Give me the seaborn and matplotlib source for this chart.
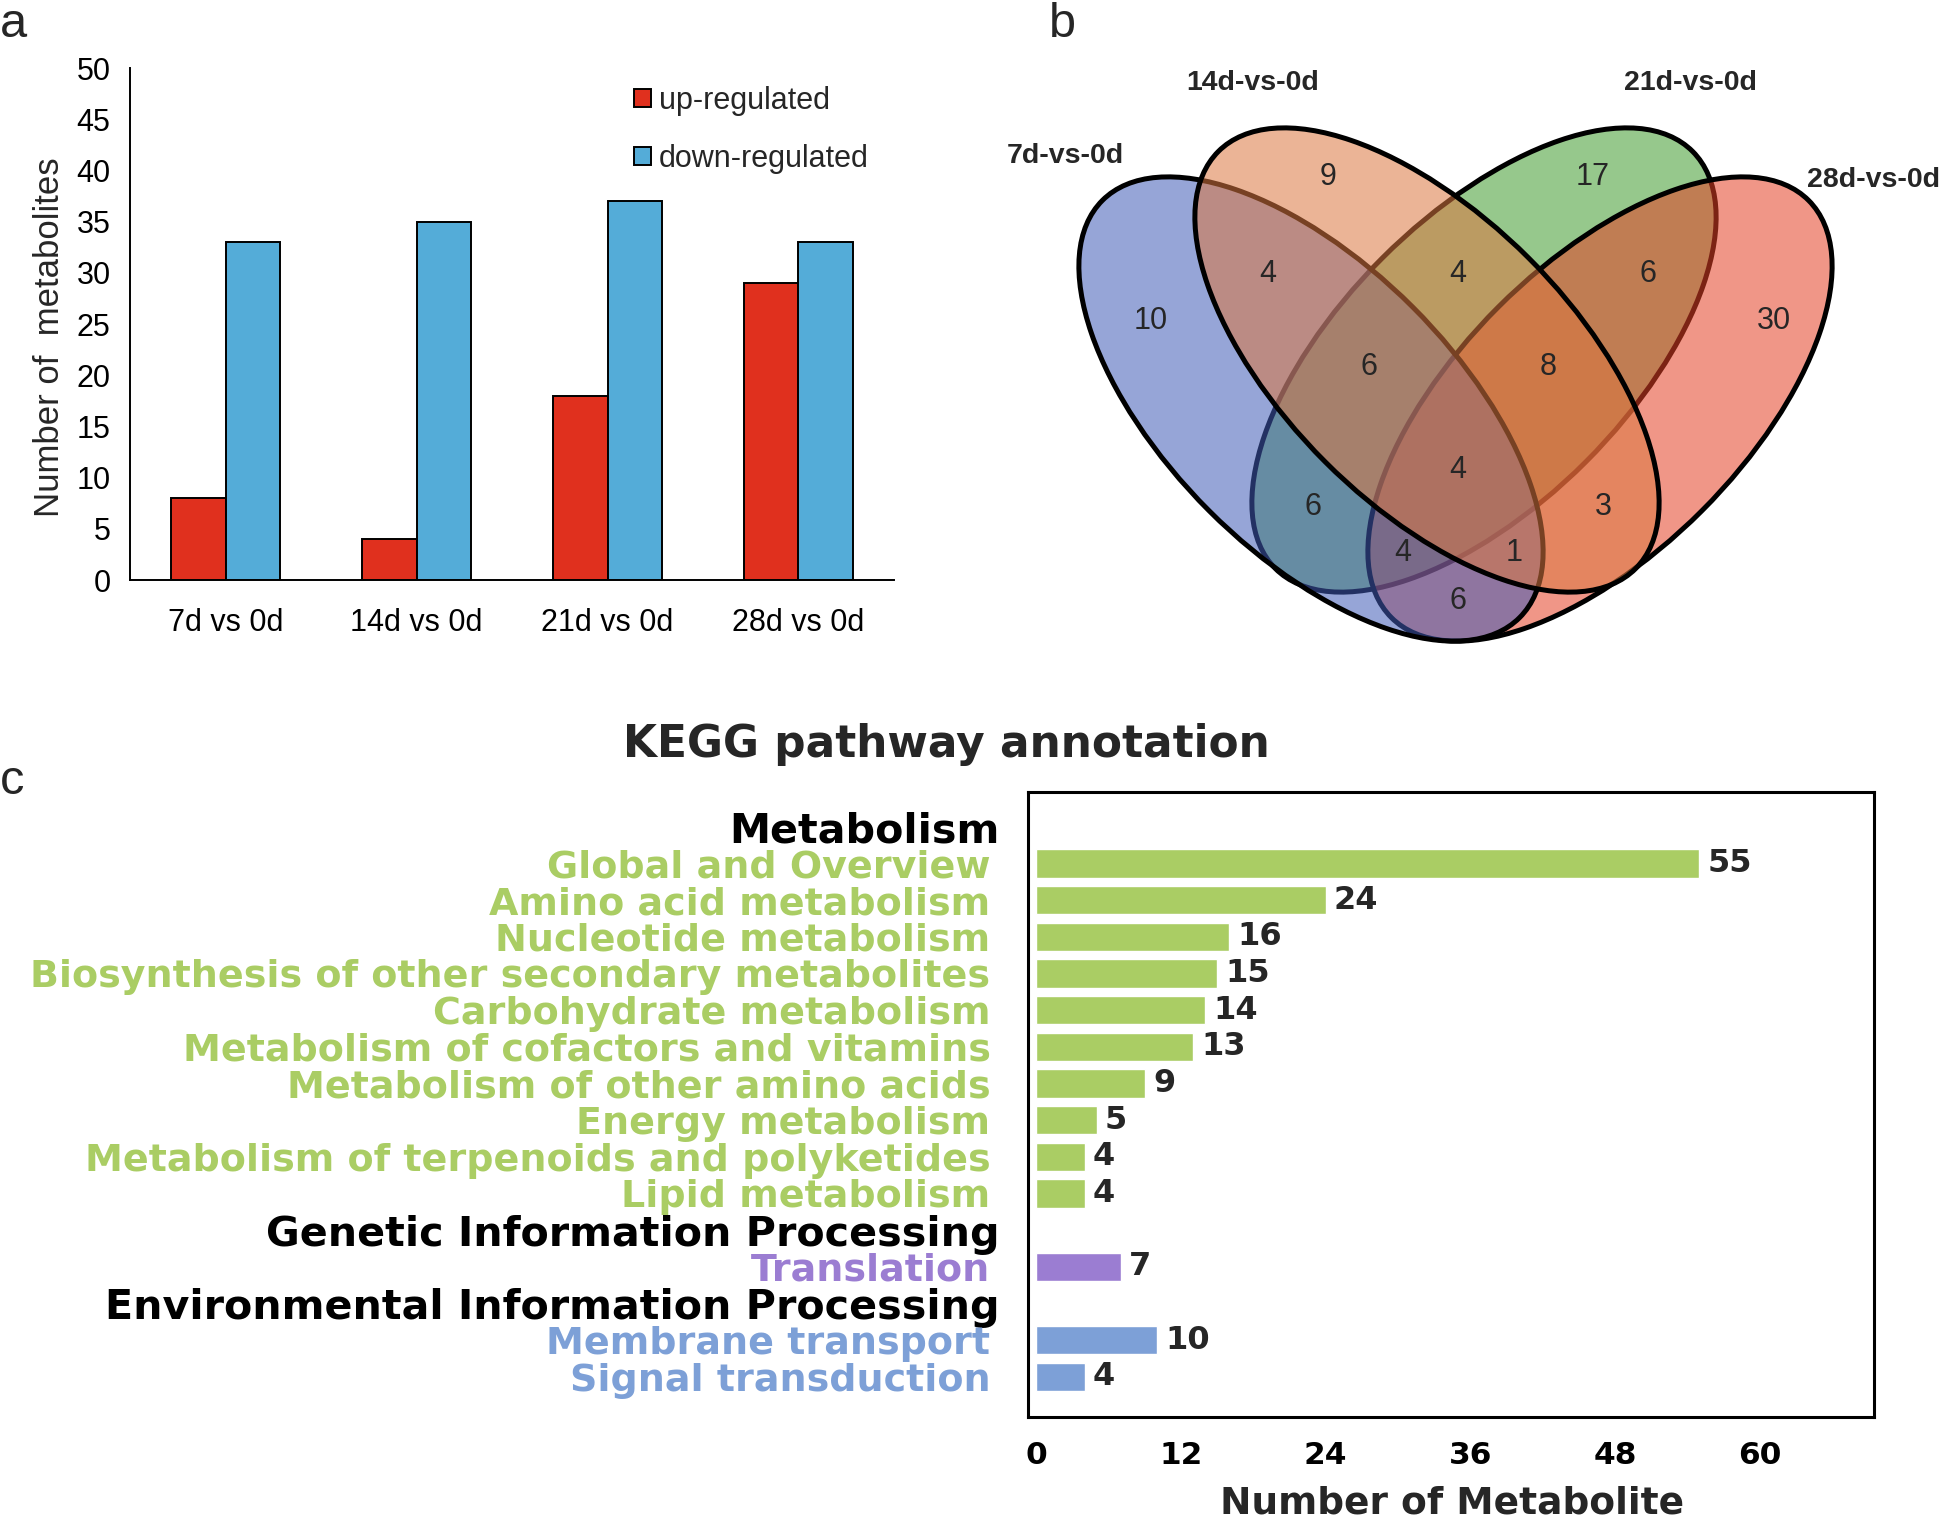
import numpy as np
import pandas as pd
import matplotlib
matplotlib.use("Agg")
import matplotlib.pyplot as plt
from matplotlib.patches import Ellipse
import seaborn as sns

# ---- panel a: differential metabolites per comparison
comparisons = ["7d vs 0d", "14d vs 0d", "21d vs 0d", "28d vs 0d"]
up_regulated = [8, 4, 18, 29]
down_regulated = [33, 35, 37, 33]

# ---- panel b: Venn region counts
venn_sets = ["7d-vs-0d", "14d-vs-0d", "21d-vs-0d", "28d-vs-0d"]
venn_counts = [10, 9, 17, 30, 4, 4, 6, 6, 8, 4, 6, 3, 4, 1, 6]

# ---- panel c: KEGG pathway annotation
metabolism_terms = ["Global and Overview", "Amino acid metabolism", "Nucleotide metabolism",
                    "Biosynthesis of other secondary metabolites", "Carbohydrate metabolism",
                    "Metabolism of cofactors and vitamins", "Metabolism of other amino acids",
                    "Energy metabolism", "Metabolism of terpenoids and polyketides", "Lipid metabolism"]
metabolism_counts = [55, 24, 16, 15, 14, 13, 9, 5, 4, 4]
genetic_terms = ["Translation"]
genetic_counts = [7]
environmental_terms = ["Membrane transport", "Signal transduction"]
environmental_counts = [10, 4]

W, H = 1946, 1527
WIDE = ["DejaVu Sans"]

def box(x0, y0, x1, y1):
    return [x0 / W, 1 - y1 / H, (x1 - x0) / W, (y1 - y0) / H]

sns.set_style("white")
plt.rcParams['font.family'] = ['Liberation Sans', 'DejaVu Sans']

fig = plt.figure(figsize=(W / 100, H / 100), dpi=100)

# ================= panel a =================
df_a = pd.DataFrame({
    "comparison": comparisons * 2,
    "count": up_regulated + down_regulated,
    "direction": ["up-regulated"] * 4 + ["down-regulated"] * 4,
})
ax_a = fig.add_axes(box(130, 68, 894, 580))
sns.barplot(data=df_a, x="comparison", y="count", hue="direction",
            palette=["#e0301e", "#54acd8"], width=0.57, saturation=1,
            edgecolor="black", linewidth=1.4, errorbar=None, ax=ax_a)
ax_a.set_xlim(-0.5, 3.5)
ax_a.set_ylim(0, 50)
ax_a.set_yticks(range(0, 51, 5))
ax_a.set_xticks([0.5, 1.5, 2.5, 3.5], minor=True)
ax_a.tick_params(axis="y", direction="out", length=6, width=1.4, labelsize=22, pad=8, colors="black")
ax_a.tick_params(axis="x", which="major", length=0, labelsize=22, pad=20, colors="black")
ax_a.tick_params(axis="x", which="minor", direction="in", length=6, width=1.4, colors="black")
sns.despine(ax=ax_a)
for s in ["left", "bottom"]:
    ax_a.spines[s].set_linewidth(1.4)
    ax_a.spines[s].set_color("black")
ax_a.set_xlabel("")
ax_a.set_ylabel("")
ax_a.legend(loc="upper left", bbox_to_anchor=(0.66, 0.965), frameon=False, fontsize=22,
            handlelength=0.55, handleheight=0.55, handletextpad=0.25, labelspacing=0.92,
            borderaxespad=0, borderpad=0)
fig.text(50 / W, 1 - 337 / H, "Number of  metabolites", rotation=90, ha="center", va="center", fontsize=25)

# ================= panel b =================
ax_b = fig.add_axes(box(1000, 60, 1946, 700))
ax_b.set_xlim(1000, 1946)
ax_b.set_ylim(700, 60)
ax_b.axis("off")

# (center x, center y, semi-major, semi-minor, angle) in pixel space; drawing order green, red, blue, orange
ellipses = [
    ((1484, 360), 295, 144, -45, "#409b2e"),   # 21d
    ((1600, 409), 295, 144, -45, "#e44025"),   # 28d
    ((1311, 409), 295, 144, 45, "#405bb6"),    # 7d
    ((1427, 360), 295, 144, 45, "#db7740"),    # 14d
]
for (cx, cy), a, b, ang, col in ellipses:
    ax_b.add_patch(Ellipse((cx, cy), 2 * a, 2 * b, angle=ang,
                           facecolor=matplotlib.colors.to_rgba(col, 0.55),
                           edgecolor="black", linewidth=3.6))

venn_label_xy = [(1151, 321), (1328, 177), (1593, 177), (1774, 321),
                 (1268, 274), (1458, 274), (1648, 274),
                 (1369, 367), (1548, 367), (1458, 470),
                 (1313, 507), (1603, 507), (1403, 553), (1514, 553), (1458, 601)]
for n, (x, y) in zip(venn_counts, venn_label_xy):
    ax_b.text(x, y, str(n), ha="center", va="center", fontsize=22)

set_label_xy = [(1065, 156, "center"), (1253, 83, "center"), (1690, 83, "center"), (1807, 180, "left")]
for name, (x, y, ha) in zip(venn_sets, set_label_xy):
    ax_b.text(x, y, name, ha=ha, va="center", fontsize=20.5, fontweight="bold", clip_on=False)

# ================= panel c =================
groups = [
    ("Metabolism", metabolism_terms, metabolism_counts, "#aacd64"),
    ("Genetic Information Processing", genetic_terms, genetic_counts, "#9b7dd2"),
    ("Environmental Information Processing", environmental_terms, environmental_counts, "#7da0d7"),
]
rows = []
for header, terms, counts, color in groups:
    rows.append({"term": header, "count": np.nan, "group": header, "header": True})
    for t, c in zip(terms, counts):
        rows.append({"term": t, "count": c, "group": header, "header": False})
df_c = pd.DataFrame(rows)
palette_c = {g[0]: g[3] for g in groups}

ax_c = fig.add_axes(box(1028, 792, 1874, 1417))
sns.barplot(data=df_c.dropna(), x="count", y="term", hue="group", order=list(df_c["term"]),
            palette=palette_c, dodge=False, width=0.77, saturation=1, errorbar=None,
            legend=False, orient="h", ax=ax_c)
ax_c.set_xlim(-0.7, 69.5)
ax_c.set_ylim(len(df_c) + 0.1, -0.95)
ax_c.set_xticks(range(0, 61, 12))
ax_c.tick_params(axis="x", direction="out", length=7, width=2.4, labelsize=22.5, pad=10, colors="black")
ax_c.tick_params(axis="y", length=0, pad=27)
for lab in ax_c.get_xticklabels():
    lab.set_fontweight("bold")
    lab.set_fontfamily(WIDE)
is_header = dict(zip(df_c["term"], df_c["header"]))
color_of = dict(zip(df_c["term"], df_c["group"].map(palette_c)))
for lab in ax_c.get_yticklabels():
    t = lab.get_text()
    lab.set_fontweight("bold")
    lab.set_fontfamily(WIDE)
    if is_header[t]:
        lab.set_fontsize(29.7)
        lab.set_color("black")
        lab.set_x(0.011)
    else:
        lab.set_fontsize(27.4)
        lab.set_color(color_of[t])
for s in ax_c.spines.values():
    s.set_visible(True)
    s.set_linewidth(2.2)
    s.set_color("black")

# value labels at the end of every drawn bar
for p in ax_c.patches:
    w = p.get_width()
    if np.isfinite(w) and w > 0:
        ax_c.annotate(f"{w:.0f}", (w, p.get_y() + p.get_height() / 2), xytext=(6, 0),
                      textcoords="offset points", ha="left", va="center",
                      fontsize=23, fontweight="bold", family=WIDE)
ax_c.set_xlabel("")
ax_c.set_ylabel("")

fig.text(946 / W, 1 - 745 / H, "KEGG pathway annotation", ha="center", va="center",
         fontsize=31.6, fontweight="bold", family=WIDE)
fig.text(1452 / W, 1 - 1513 / H, "Number of Metabolite", ha="center", va="baseline",
         fontsize=27, fontweight="bold", family=WIDE)

# panel letters
fig.text(0, 1 - 37 / H, "a", fontsize=35, va="baseline")
fig.text(1049 / W, 1 - 37 / H, "b", fontsize=35, va="baseline")
fig.text(0, 1 - 794 / H, "c", fontsize=35, va="baseline")

fig.savefig("out.png", dpi=100)
